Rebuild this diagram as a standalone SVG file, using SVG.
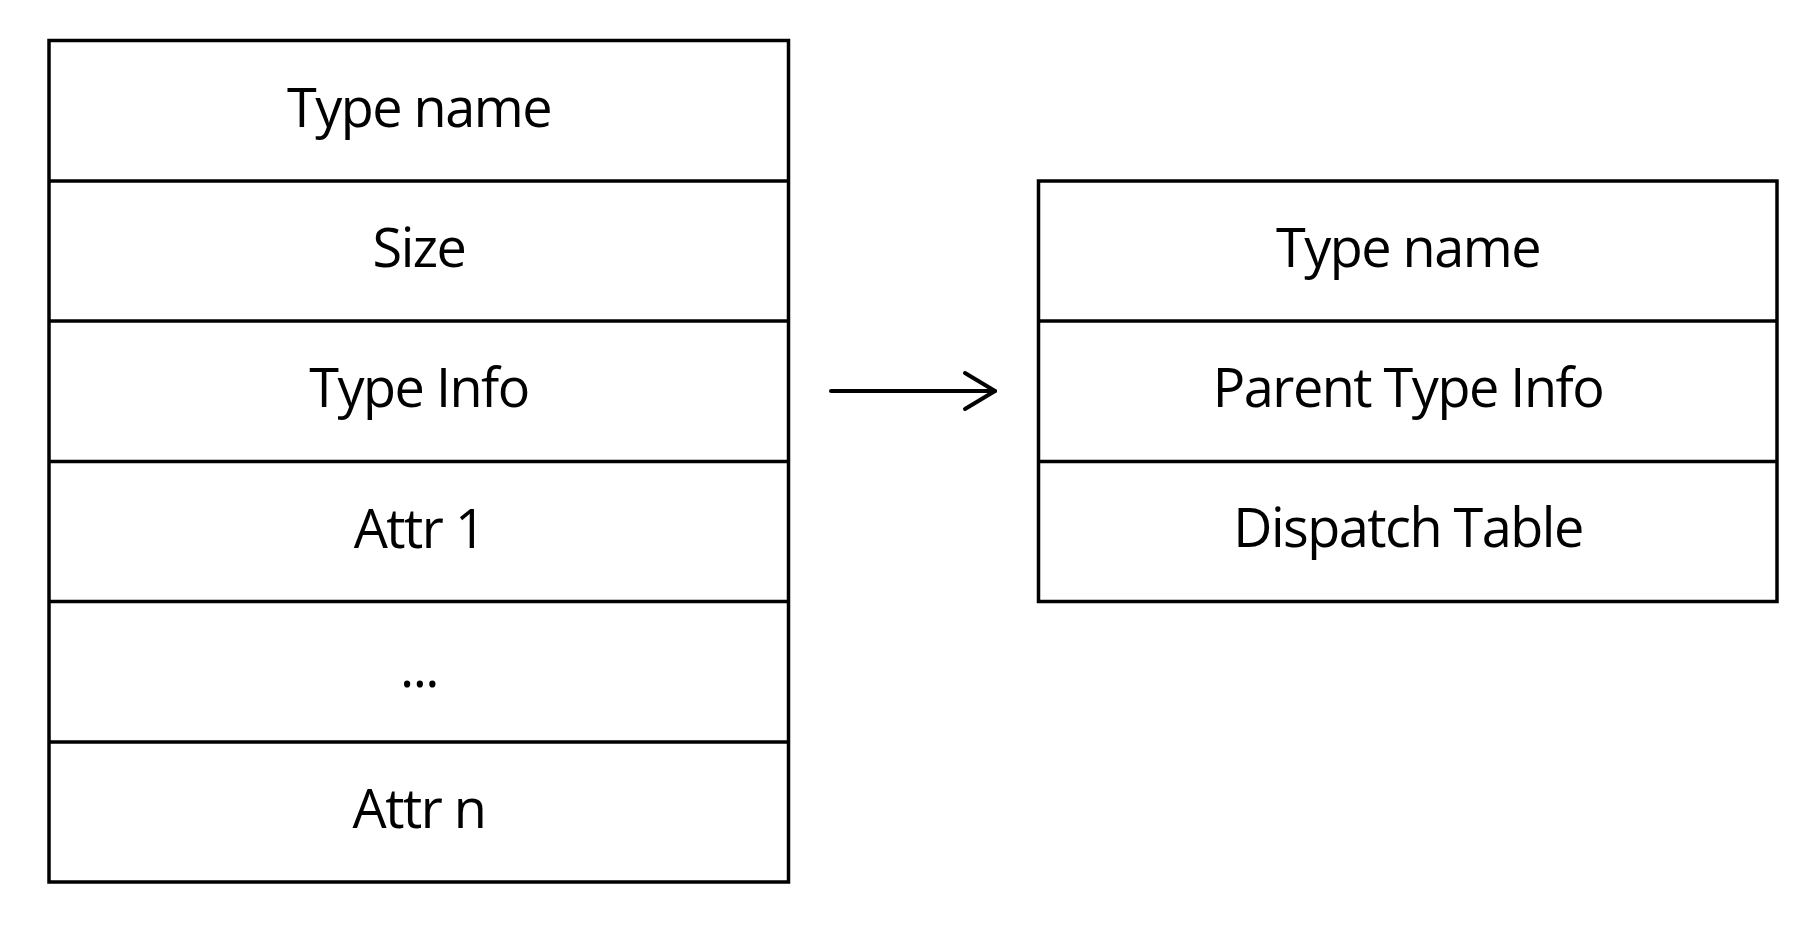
<svg xmlns="http://www.w3.org/2000/svg" width="1810" height="926" viewBox="0 0 1810 926">
  <style>
    .box { fill: #ffffff; stroke: #000000; stroke-width: 3.5; }
    .sep { stroke: #000000; stroke-width: 3.5; fill: none; }
    .lbl { font-family: "Open Sans", "Noto Sans", sans-serif; font-size: 54px; letter-spacing: -1.5px; fill: #000000; text-anchor: middle; }
    .conn { stroke: #000000; stroke-width: 4; fill: none; stroke-linecap: round; stroke-linejoin: round; }
  </style>
  <rect width="1810" height="926" fill="#ffffff"/>
  <g id="object">
    <rect class="box" x="49" y="40.5" width="739.5" height="841.5"/>
    <line class="sep" x1="49" y1="181" x2="788.5" y2="181"/>
    <line class="sep" x1="49" y1="321" x2="788.5" y2="321"/>
    <line class="sep" x1="49" y1="461.5" x2="788.5" y2="461.5"/>
    <line class="sep" x1="49" y1="601.5" x2="788.5" y2="601.5"/>
    <line class="sep" x1="49" y1="742" x2="788.5" y2="742"/>
    <text class="lbl" x="419" y="126.5">Type name</text>
    <text class="lbl" x="419" y="267">Size</text>
    <text class="lbl" x="419" y="407">Type Info</text>
    <text class="lbl" x="419" y="547.5">Attr 1</text>
    <text class="lbl" x="419" y="687">...</text>
    <text class="lbl" x="419" y="828">Attr n</text>
  </g>
  <g id="typeinfo">
    <rect class="box" x="1038.5" y="181" width="738.5" height="420.5"/>
    <line class="sep" x1="1038.5" y1="321" x2="1777" y2="321"/>
    <line class="sep" x1="1038.5" y1="461.5" x2="1777" y2="461.5"/>
    <text class="lbl" x="1408" y="267">Type name</text>
    <text class="lbl" x="1408" y="407">Parent Type Info</text>
    <text class="lbl" x="1408" y="546.5">Dispatch Table</text>
  </g>
  <g id="connectors">
    <line class="conn" x1="831" y1="391" x2="995" y2="391"/>
    <polyline class="conn" points="965,373 995,391 965,409"/>
  </g>
</svg>
